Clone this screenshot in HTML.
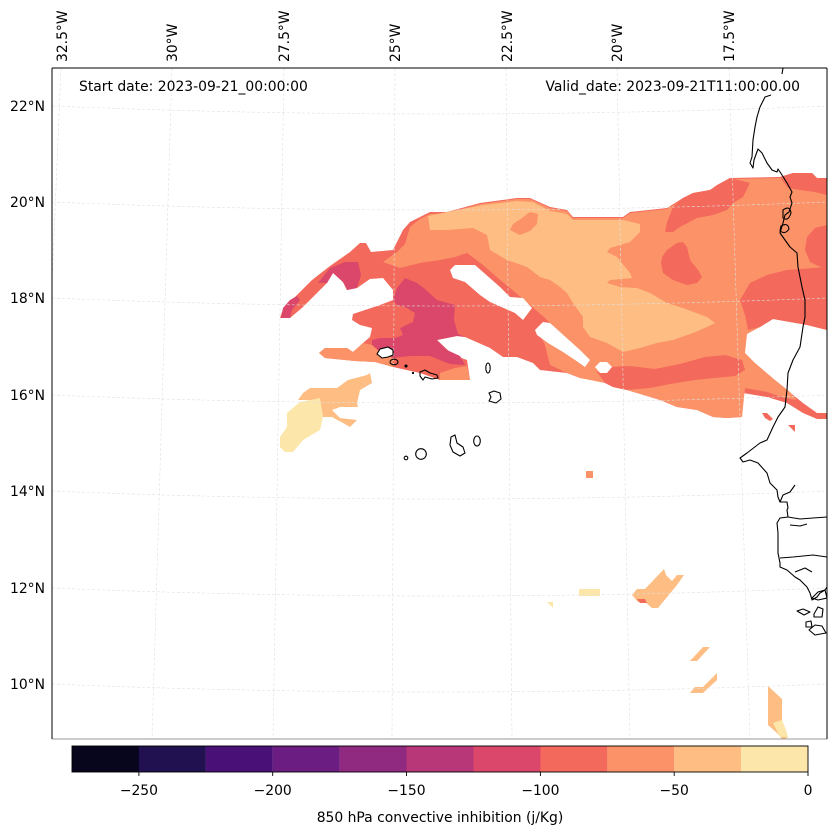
<!DOCTYPE html>
<html><head><meta charset="utf-8"><style>
html,body{margin:0;padding:0;background:#fff;}
svg{display:block;}
text{font-family:"DejaVu Sans","Liberation Sans",sans-serif;fill:#000;}
</style></head><body>
<svg width="837" height="836" viewBox="0 0 837 836" xmlns="http://www.w3.org/2000/svg">
<defs><clipPath id="mapclip"><rect x="52" y="68" width="775" height="671"/></clipPath></defs>
<rect x="0" y="0" width="837" height="836" fill="#fff"/>
<g clip-path="url(#mapclip)">
<path fill="#f3695c" d="M280,318 L282,312 L292,300 L312,280 L330,266 L350,252 L360,243 L366,243 L371,252 L393,250 L403,230 L410,222 L430,212 L447,212 L480,203 L517,198 L530,198 L550,207 L567,210 L573,217 L623,217 L630,212 L667,208 L683,198 L693,193 L710,190 L730,178 L780,177 L793,173 L812,173 L817,178 L827,178 L827,328 L807,323 L773,317 L760,325 L745,332 L743,353 L753,363 L773,380 L787,390 L803,403 L817,413 L827,413 L827,419 L817,419 L803,413 L787,403 L767,397 L743,393 L742,417 L727,418 L713,417 L697,410 L677,407 L660,400 L627,390 L613,387 L605,382 L580,378 L567,373 L540,370 L533,363 L517,357 L503,357 L490,348 L465,337 L457,336 L437,340 L453,355 L467,360 L470,380 L440,380 L420,373 L393,367 L375,362 L355,361 L325,358 L319,353 L325,348 L347,348 L353,352 L363,343 L370,337 L372,328 L360,325 L352,320 L353,314 L365,310 L380,305 L393,300 L393,290 L383,278 L370,279 L357,288 L347,290 L343,282 L333,273 L327,283 L313,297 L303,307 L290,318 Z"/>
<path fill="#fc9267" d="M383,262 L397,252 L405,244 L410,227 L420,219 L430,214 L447,213 L480,204 L517,199 L530,199 L550,208 L567,211 L573,218 L623,218 L630,213 L667,209 L683,199 L693,194 L710,191 L730,179 L780,178 L793,174 L812,174 L817,179 L827,179 L827,330 L807,325 L773,319 L760,327 L747,334 L745,353 L755,363 L775,380 L790,392 L797,400 L785,398 L767,392 L745,388 L742,417 L727,418 L713,417 L697,410 L677,407 L660,400 L627,390 L613,387 L605,383 L580,378 L567,373 L550,365 L545,345 L540,335 L557,330 L545,318 L530,305 L510,288 L500,280 L483,265 L467,253 L455,257 L440,260 L420,263 L400,268 Z"/>
<path fill="#f3695c" d="M665,232 L667,222 L673,207 L683,198 L693,193 L710,190 L717,185 L730,178 L750,183 L743,197 L733,203 L727,210 L713,215 L697,218 L680,227 L673,232 Z"/>
<path fill="#f3695c" d="M780,177 L793,173 L812,173 L817,178 L827,178 L827,195 L815,192 L800,190 L788,188 Z"/>
<path fill="#f3695c" d="M827,225 L815,228 L807,237 L805,250 L810,262 L827,270 Z"/>
<path fill="#f3695c" d="M662,257 L667,250 L677,243 L683,242 L687,247 L690,260 L698,270 L702,277 L697,283 L687,285 L673,280 L663,273 L661,263 Z"/>
<path fill="#f3695c" d="M740,300 L750,283 L767,275 L787,270 L827,267 L827,330 L807,325 L773,319 L760,327 L748,330 L745,315 Z"/>
<path fill="#f3695c" d="M597,372 L610,367 L630,366 L655,369 L680,364 L705,357 L725,355 L742,360 L745,370 L735,376 L715,378 L695,380 L670,384 L650,388 L627,390 L613,387 L605,383 Z"/>
<path fill="#fdbd83" d="M428,216 L447,212 L483,205 L517,201 L533,202 L550,211 L567,214 L573,220 L623,220 L640,224 L640,232 L630,242 L610,248 L607,252 L617,257 L630,273 L632,278 L610,280 L607,283 L620,287 L637,288 L650,293 L667,303 L683,308 L707,317 L715,323 L707,327 L693,333 L673,340 L657,343 L640,348 L623,352 L607,343 L590,337 L583,327 L583,317 L573,303 L567,293 L560,287 L550,280 L540,277 L527,267 L507,260 L490,250 L487,235 L473,228 L447,230 L430,230 Z"/>
<path fill="#fc9267" d="M510,230 L513,224 L522,218 L530,212 L538,214 L537,224 L530,231 L520,235 Z"/>
<path fill="#da476a" d="M393,300 L397,288 L405,278 L417,283 L425,289 L437,300 L455,305 L454,320 L458,334 L465,337 L457,336 L437,340 L447,350 L460,356 L465,365 L450,364 L430,356 L410,356 L393,358 L380,352 L372,345 L372,340 L380,338 L395,338 L403,335 L400,328 L413,322 L415,313 L405,307 L397,305 Z"/>
<path fill="#da476a" d="M281,318 L283,308 L290,300 L297,296 L300,300 L292,310 L290,318 Z"/>
<path fill="#da476a" d="M318,283 L330,268 L345,262 L358,262 L361,275 L357,288 L347,290 L343,282 L333,273 L327,283 Z"/>
<path fill="#fc9267" d="M319,353 L325,348 L347,348 L353,352 L363,343 L372,345 L380,352 L393,358 L393,367 L375,362 L355,361 L325,358 Z"/>
<path fill="#fc9267" d="M440,373 L455,368 L467,366 L470,380 L440,380 Z"/>
<path fill="#fff" d="M450,270 L455,265 L475,265 L500,287 L510,297 L523,298 L532,308 L523,320 L515,313 L490,302 L480,295 L465,282 L453,278 Z"/>
<path fill="#fff" d="M535,330 L543,322 L550,323 L580,350 L590,360 L585,367 L575,360 L563,352 L548,343 L537,335 Z"/>
<path fill="#fff" d="M595,367 L600,362 L607,362 L612,367 L607,373 L600,373 Z"/>
<path fill="#f3695c" d="M762,413 L767,413 L773,419 L770,421 L765,418 Z"/>
<path fill="#f3695c" d="M788,425 L795,425 L795,432 Z"/>
<path fill="#fdbd83" d="M298,400 L303,393 L310,388 L337,388 L348,380 L367,375 L370,373 L372,383 L360,390 L357,403 L358,407 L340,407 L332,410 L340,418 L357,420 L350,427 L343,423 L332,417 L323,417 L320,400 Z"/>
<path fill="#fce6a9" d="M280,437 L287,427 L287,413 L300,402 L320,398 L323,417 L320,430 L303,440 L293,452 L285,452 L280,447 Z"/>
<rect x="586" y="471" width="7" height="7" fill="#fc9267"/>
<rect x="579" y="589" width="21" height="7" fill="#fce6a9"/>
<path fill="#fce6a9" d="M547,602 L553,602 L553,608 Z"/>
<path fill="#fdbd83" d="M632,595 L637,589 L645,589 L664,569 L666,575 L672,581 L677,575 L684,575 L677,585 L658,608 L652,608 L645,602 L638,602 Z"/>
<path fill="#f3695c" d="M637,599 L645,599 L647,603 L640,603 Z"/>
<path fill="#fdbd83" d="M690,661 L703,647 L710,647 L697,661 Z"/>
<path fill="#fdbd83" d="M690,693 L695,687 L703,687 L717,673 L717,680 L703,693 Z"/>
<path fill="#fdbd83" d="M768,686 L782,699 L782,725 L788,737 L783,740 L777,733 L768,725 Z"/>
<path fill="#fce6a9" d="M773,723 L782,720 L786,730 L788,737 L780,737 Z"/>
<g fill="none" stroke="#e0e0e0" stroke-width="0.6" stroke-dasharray="3,2">
<path d="M52,106 Q440,122 827,106"/>
<path d="M52,202 Q440,218 827,202"/>
<path d="M52,298 Q440,314 827,298"/>
<path d="M52,395 Q440,411 827,395"/>
<path d="M52,491 Q440,507 827,491"/>
<path d="M52,588 Q440,604 827,588"/>
<path d="M52,684 Q440,700 827,684"/>
<line x1="61" y1="68" x2="33" y2="739"/>
<line x1="172" y1="68" x2="152" y2="739"/>
<line x1="284" y1="68" x2="273" y2="739"/>
<line x1="395" y1="68" x2="392" y2="739"/>
<line x1="506" y1="68" x2="512" y2="739"/>
<line x1="617" y1="68" x2="630" y2="739"/>
<line x1="729" y1="68" x2="750" y2="739"/>
</g>
<g fill="none" stroke="#000" stroke-width="1.1" stroke-linejoin="round">
<path d="M783,68 L782,74"/>
<path d="M771,95 L765,97 L760,107 L757,117 L755,127 L753,140 L752,157 L750,163 L753,168 L754,160 L758,149 L762,153 L767,163 L772,170 L777,172 L778,169 L782,175 L787,183 L792,192 L790,197 L792,203 L789,212 L785,215 L783,223 L780,233 L785,240 L790,247 L797,253 L798,267 L802,287 L805,300 L805,317 L803,327 L800,347 L793,360 L788,373 L787,390 L785,407 L778,417 L773,427 L767,440 L760,443 L747,453 L740,458 L743,462 L750,460 L758,463 L767,473 L770,483 L777,490 L778,497 L780,502 L787,502 L788,508 L787,510 L788,517 L780,518 L777,523 L778,533 L778,553 L780,563 L780,567 L787,570 L795,577 L800,580 L807,587 L810,593 L812,600 L817,597 L820,593 L825,590 L827,587"/>
<path d="M780,502 L783,495 L790,492 L795,485"/>
<path d="M788,517 L800,519 L813,518 L827,517"/>
<path d="M790,525 L800,526 L807,524"/>
<path d="M780,558 L793,557 L813,555 L827,557"/>
<path d="M795,572 L805,568 L812,572"/>
<path d="M783,210 Q790,205 791,213 Q788,222 783,218 Z"/>
<path d="M781,226 Q788,222 789,229 Q785,235 780,231 Z"/>
<path d="M797,611 L803,609 L810,612 L804,615 Z"/>
<path d="M814,614 L818,607 L823,609 L822,617 L814,617 Z"/>
<path d="M806,622 L811,621 L812,627 L806,627 Z"/>
<path d="M809,630 L815,625 L822,626 L826,633 L815,635 Z"/>
<path d="M812,598 L818,592 L825,590 L827,598 L818,600 Z"/>
<path fill="#fff" d="M377,354 L380,349 L388,347 L393,350 L393,355 L388,357 L382,358 Z"/>
<ellipse cx="394" cy="362" rx="4" ry="2.8"/>
<circle cx="406" cy="366" r="1" fill="#000"/>
<circle cx="413" cy="373" r="0.6" fill="#000"/>
<path d="M420,372 L425,370 L430,373 L437,375 L438,378 L432,379 L425,377 L423,380 L420,376 Z"/>
<ellipse cx="488" cy="368" rx="2.2" ry="5"/>
<path d="M489,393 L494,391 L500,393 L501,399 L496,403 L489,401 L491,397 Z"/>
<ellipse cx="477" cy="441" rx="3.3" ry="5"/>
<path d="M451,437 L455,435 L457,443 L463,447 L465,453 L460,456 L453,452 L450,445 Z"/>
<circle cx="421" cy="454" r="5.3"/>
<circle cx="406" cy="458" r="1.8"/>
</g>
</g>
<line x1="52" y1="739" x2="827" y2="739" stroke="#999" stroke-width="1"/>
<line x1="52" y1="68" x2="827" y2="68" stroke="#000" stroke-width="1"/>
<line x1="52" y1="68" x2="52" y2="739" stroke="#000" stroke-width="1"/>
<line x1="827" y1="68" x2="827" y2="739" stroke="#000" stroke-width="1"/>
<text x="79" y="91" font-size="13.9">Start date: 2023-09-21_00:00:00</text>
<text x="800" y="91" font-size="13.9" text-anchor="end">Valid_date: 2023-09-21T11:00:00.00</text>
<g font-size="13.9" text-anchor="end">
<text x="45" y="111">22°N</text>
<text x="45" y="207">20°N</text>
<text x="45" y="303">18°N</text>
<text x="45" y="400">16°N</text>
<text x="45" y="496">14°N</text>
<text x="45" y="593">12°N</text>
<text x="45" y="689">10°N</text>
</g>
<g font-size="13.9">
<text transform="translate(67,62) rotate(-90)">32.5°W</text>
<text transform="translate(177,62) rotate(-90)">30°W</text>
<text transform="translate(289,62) rotate(-90)">27.5°W</text>
<text transform="translate(400,62) rotate(-90)">25°W</text>
<text transform="translate(512,62) rotate(-90)">22.5°W</text>
<text transform="translate(622,62) rotate(-90)">20°W</text>
<text transform="translate(734,62) rotate(-90)">17.5°W</text>
</g>
<g>
<rect x="72" y="746" width="67" height="26" fill="#07061c"/>
<rect x="138.9" y="746" width="67" height="26" fill="#211150"/>
<rect x="205.8" y="746" width="67" height="26" fill="#491078"/>
<rect x="272.7" y="746" width="67" height="26" fill="#6c1d81"/>
<rect x="339.6" y="746" width="67" height="26" fill="#902a81"/>
<rect x="406.5" y="746" width="67" height="26" fill="#b73779"/>
<rect x="473.5" y="746" width="67" height="26" fill="#da476a"/>
<rect x="540.4" y="746" width="67" height="26" fill="#f3695c"/>
<rect x="607.3" y="746" width="67" height="26" fill="#fc9267"/>
<rect x="674.2" y="746" width="67" height="26" fill="#fdbd83"/>
<rect x="741.1" y="746" width="66.9" height="26" fill="#fce6a9"/>
<rect x="72" y="746" width="736" height="26" fill="none" stroke="#000" stroke-width="0.9"/>
<g stroke="#000" stroke-width="0.9">
<line x1="138.9" y1="772" x2="138.9" y2="776"/>
<line x1="272.7" y1="772" x2="272.7" y2="776"/>
<line x1="406.5" y1="772" x2="406.5" y2="776"/>
<line x1="540.4" y1="772" x2="540.4" y2="776"/>
<line x1="674.2" y1="772" x2="674.2" y2="776"/>
<line x1="808" y1="772" x2="808" y2="776"/>
</g>
<g font-size="13.9" text-anchor="middle">
<text x="138.9" y="795">−250</text>
<text x="272.7" y="795">−200</text>
<text x="406.5" y="795">−150</text>
<text x="540.4" y="795">−100</text>
<text x="674.2" y="795">−50</text>
<text x="808" y="795">0</text>
<text x="440" y="822">850 hPa convective inhibition (j/Kg)</text>
</g>
</g>
</svg>
</body></html>
